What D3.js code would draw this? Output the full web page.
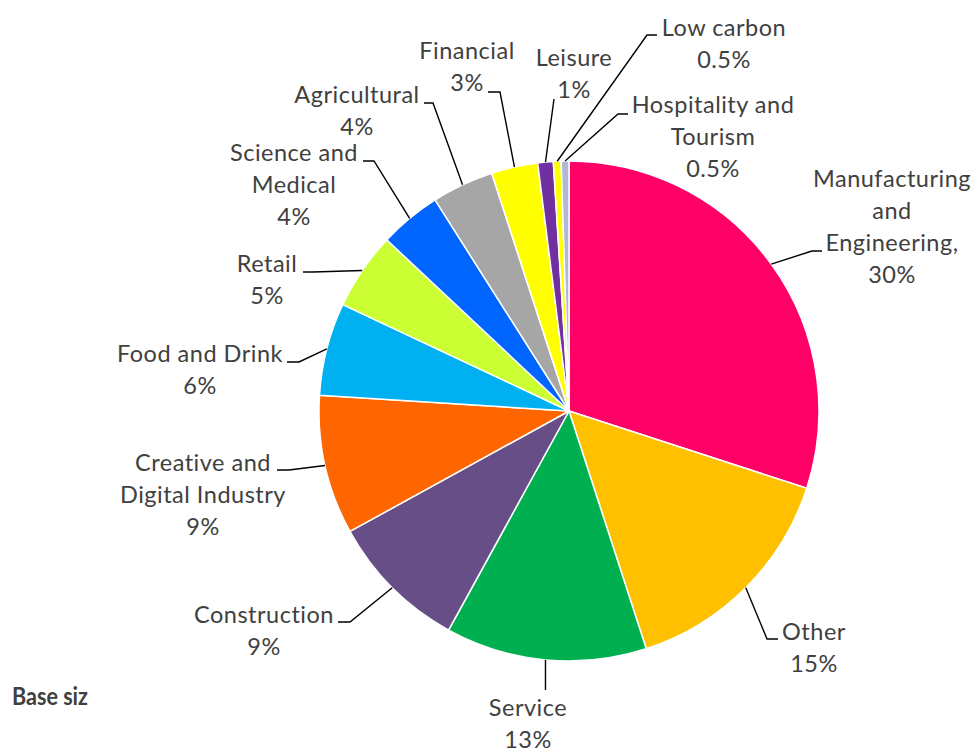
<!DOCTYPE html>
<html>
<head>
<meta charset="utf-8">
<script src="https://cdn.jsdelivr.net/npm/d3@7/dist/d3.min.js"></script>
<style>
  html, body { margin: 0; padding: 0; background: #fff; }
  svg { display: block; }
  .lbl { font-family: Lato, "Open Sans", sans-serif; font-size: 23.5px; letter-spacing: 0.5px; fill: #404040; }
  .base { font-family: Lato, sans-serif; font-weight: 700; font-size: 25px; fill: #404040; }
</style>
</head>
<body>
<svg id="chart" width="976" height="748"></svg>
<script>
// Sector share of businesses (%)
const categories = [
  "Manufacturing and Engineering", "Other", "Service", "Construction",
  "Creative and Digital Industry", "Food and Drink", "Retail",
  "Science and Medical", "Agricultural", "Financial", "Leisure",
  "Low carbon", "Hospitality and Tourism"
];
const values = [30, 15, 13, 9, 9, 6, 5, 4, 4, 3, 1, 0.5, 0.5];
const colors = [
  "#FF0066", "#FFC000", "#00B050", "#684E87", "#FF6600", "#00B0F0", "#CCFF33",
  "#0066FF", "#A6A6A6", "#FFFF00", "#7030A0", "#FFFF00", "#ADB9D6"
];
// Label text lines (name lines; the value line is appended from values)
const labelLines = [
  ["Manufacturing", "and", "Engineering,"], ["Other"], ["Service"], ["Construction"],
  ["Creative and", "Digital Industry"], ["Food and Drink"], ["Retail"],
  ["Science and", "Medical"], ["Agricultural"], ["Financial"], ["Leisure"],
  ["Low carbon"], ["Hospitality and", "Tourism"]
];

// Label placement: text block centre x, first-line centre y, leader elbow and leader end
const labelLayout = {
  "Manufacturing and Engineering": { x: 892, y: 179, elbow: [812, 251], end: [822, 251] },
  "Other":                         { x: 814, y: 632, elbow: [767, 639], end: [778, 639] },
  "Service":                       { x: 528, y: 708, elbow: null, end: [537, 690], vertical: true },
  "Construction":                  { x: 264, y: 615, elbow: [350, 622], end: [338, 622] },
  "Creative and Digital Industry": { x: 203, y: 463, elbow: [289, 470], end: [277, 470] },
  "Food and Drink":                { x: 200, y: 354, elbow: [299, 362], end: [287, 362] },
  "Retail":                        { x: 267, y: 264, elbow: [313, 272], end: [303, 272] },
  "Science and Medical":           { x: 294, y: 153, elbow: [374, 161], end: [363, 161] },
  "Agricultural":                  { x: 357, y: 95,  elbow: [433, 103], end: [424, 103] },
  "Financial":                     { x: 467, y: 51,  elbow: [500, 92],  end: [488, 92] },
  "Leisure":                       { x: 574, y: 58,  elbow: null, end: [554, 99] },
  "Low carbon":                    { x: 724, y: 28,  elbow: [647, 35],  end: [657, 35] },
  "Hospitality and Tourism":       { x: 713, y: 105, elbow: [618, 114], end: [628, 114] }
};

const svg = d3.select("#chart");
const cx = 569, cy = 411, r = 250;
const lineH = 32;

const data = categories.map((c, i) => ({ name: c, value: values[i], color: colors[i], lines: labelLines[i] }));

const pie = d3.pie().sort(null).value(d => d.value);
const arcs = pie(data);
const arc = d3.arc().innerRadius(0).outerRadius(r);

const g = svg.append("g").attr("transform", `translate(${cx},${cy})`);

g.selectAll("path.slice")
  .data(arcs)
  .join("path")
  .attr("class", "slice")
  .attr("d", arc)
  .attr("fill", d => d.data.color)
  .attr("stroke", "#fff")
  .attr("stroke-width", 1.5)
  .attr("stroke-linejoin", "round");

// Leader lines from the slice edge at its mid-angle
const leaders = svg.append("g");
arcs.forEach(d => {
  const L = labelLayout[d.data.name];
  const mid = (d.startAngle + d.endAngle) / 2;
  const sx = cx + r * Math.sin(mid), sy = cy - r * Math.cos(mid);
  const pts = [[sx, sy]];
  if (L.vertical) pts.push([sx, L.end[1]]);
  else {
    if (L.elbow) pts.push(L.elbow);
    pts.push(L.end);
  }
  leaders.append("path")
    .attr("d", d3.line()(pts))
    .attr("fill", "none")
    .attr("stroke", "#000")
    .attr("stroke-width", 1.4);
});

// Category labels with values
const fmt = v => (Number.isInteger(v) ? v : v.toFixed(1)) + "%";
const labels = svg.append("g");
arcs.forEach(d => {
  const L = labelLayout[d.data.name];
  const lines = d.data.lines.concat([fmt(d.data.value)]);
  const t = labels.append("text")
    .attr("class", "lbl")
    .attr("text-anchor", "middle");
  lines.forEach((s, i) => {
    t.append("tspan")
      .attr("x", L.x)
      .attr("y", L.y + i * lineH)
      .attr("dy", "0.36em")
      .text(s);
  });
});

svg.append("text")
  .attr("class", "base")
  .attr("x", 12)
  .attr("y", 705)
  .attr("textLength", 76)
  .attr("lengthAdjust", "spacingAndGlyphs")
  .text("Base siz");
</script>
</body>
</html>
